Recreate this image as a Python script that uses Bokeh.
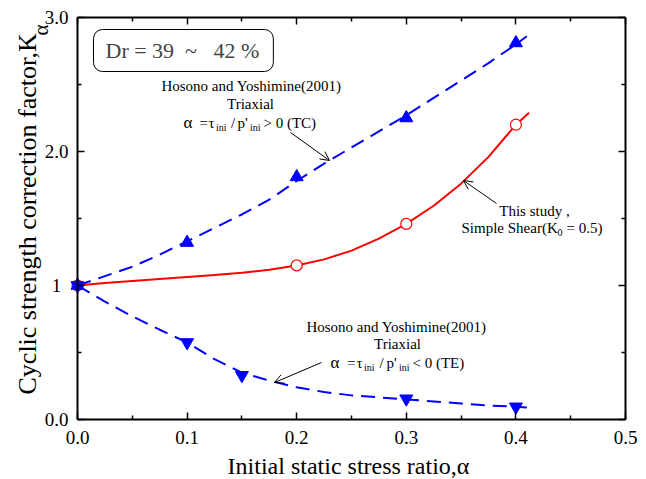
from math import pi
from bokeh.plotting import figure
from bokeh.models import (Label, LabelSet, ColumnDataSource, LinearAxis, FixedTicker,
                          Arrow, OpenHead, Range1d)
from bokeh.embed import file_html
from bokeh.resources import INLINE

# ---------------- data ----------------
# Hosono and Yoshimine (2001) triaxial compression (TC)
tc_x = [0.0, 0.1, 0.2, 0.3, 0.4]
tc_y = [1.0, 1.32, 1.81, 2.25, 2.81]
tc_curve_x = [0.0, 0.025, 0.05, 0.075, 0.1, 0.125, 0.15, 0.175, 0.2, 0.225, 0.25,
              0.275, 0.3, 0.325, 0.35, 0.375, 0.4, 0.41]
tc_curve_y = [1.0, 1.07, 1.14, 1.23, 1.33, 1.43, 1.53, 1.64, 1.78, 1.91, 2.03,
              2.15, 2.27, 2.40, 2.53, 2.66, 2.80, 2.86]

# Hosono and Yoshimine (2001) triaxial extension (TE)
te_x = [0.0, 0.1, 0.15, 0.3, 0.4]
te_y = [1.0, 0.575, 0.33, 0.155, 0.095]
te_curve_x = [0.0, 0.025, 0.05, 0.075, 0.1, 0.125, 0.15, 0.175, 0.2, 0.225, 0.25,
              0.275, 0.3, 0.325, 0.35, 0.375, 0.4, 0.41]
te_curve_y = [1.0, 0.88, 0.77, 0.67, 0.575, 0.45, 0.35, 0.29, 0.24, 0.205, 0.18,
              0.165, 0.15, 0.135, 0.12, 0.105, 0.095, 0.09]

# This study, simple shear (K0 = 0.5)
ss_x = [0.0, 0.2, 0.3, 0.4]
ss_y = [1.0, 1.15, 1.46, 2.20]
ss_curve_x = [0.0, 0.025, 0.05, 0.075, 0.1, 0.125, 0.15, 0.175, 0.2, 0.225, 0.25,
              0.275, 0.3, 0.325, 0.35, 0.375, 0.4, 0.412]
ss_curve_y = [1.0, 1.018, 1.033, 1.048, 1.063, 1.078, 1.095, 1.118, 1.15, 1.195, 1.26,
              1.35, 1.46, 1.595, 1.76, 1.96, 2.20, 2.29]

xtick_vals = [0.0, 0.1, 0.2, 0.3, 0.4, 0.5]
xtick_labels = ["0.0", "0.1", "0.2", "0.3", "0.4", "0.5"]
xminor_vals = [0.05, 0.15, 0.25, 0.35, 0.45]
ytick_vals = [0.0, 1.0, 2.0, 3.0]
ytick_labels = ["0.0", "1", "2.0", "3.0"]
yminor_vals = [0.5, 1.5, 2.5]

FONT = "Liberation Serif"
BLUE = "#0000FF"
RED = "#FF0000"

W, H = 646, 479
FL, FR, FT, FB = 77, 625, 17, 419   # plotting box in canvas pixels


def dx(px):
    return (px - FL) / (FR - FL) * 0.5


def dy(py):
    return (FB - py) / (FB - FT) * 3.0


# ---------------- figure ----------------
p = figure(width=W, height=H, output_backend="svg", toolbar_location=None,
           x_range=Range1d(dx(0), dx(W)), y_range=Range1d(dy(H), dy(0)),
           min_border=0, x_axis_location=None, y_axis_location=None)
p.grid.visible = False
p.outline_line_color = None
p.background_fill_color = "white"
p.border_fill_color = "white"


def make_axis(ticks, minor, labels, loc, bounds):
    ax = LinearAxis(ticker=FixedTicker(ticks=ticks, minor_ticks=minor),
                    fixed_location=loc, bounds=bounds)
    ax.axis_line_width = 2
    ax.axis_line_color = "black"
    ax.major_tick_in = 7
    ax.major_tick_out = 0
    ax.minor_tick_in = 4
    ax.minor_tick_out = 0
    ax.major_tick_line_width = 1.5
    ax.minor_tick_line_width = 1.5
    ax.major_tick_line_color = "black"
    ax.minor_tick_line_color = "black"
    ax.major_label_overrides = {v: l for v, l in zip(ticks, labels)}
    ax.major_label_text_font = FONT
    ax.major_label_text_font_size = "19px"
    ax.major_label_text_color = "black"
    ax.major_label_standoff = 11
    return ax


blank_x = [""] * len(xtick_vals)
blank_y = [""] * len(ytick_vals)
p.add_layout(make_axis(xtick_vals, xminor_vals, xtick_labels, 0.0, (0.0, 0.5)), "below")
p.add_layout(make_axis(xtick_vals, xminor_vals, blank_x, 3.0, (0.0, 0.5)), "above")
p.add_layout(make_axis(ytick_vals, yminor_vals, blank_y, 0.0, (0.0, 3.0)), "left")
p.add_layout(make_axis(ytick_vals, yminor_vals, blank_y, 0.5, (0.0, 3.0)), "right")

# y tick labels (centred, as in the reference)
ysrc = ColumnDataSource(dict(y=ytick_vals, t=ytick_labels))
p.add_layout(LabelSet(x=dx(56), y="y", text="t", source=ysrc, text_font=FONT,
                      text_font_size="19px", text_align="center", text_baseline="middle",
                      text_color="black"))

# ---------------- curves ----------------
p.line(tc_curve_x, tc_curve_y, line_color=BLUE, line_width=2, line_dash="14 8")
p.line(te_curve_x, te_curve_y, line_color=BLUE, line_width=2, line_dash="14 8")
p.line(ss_curve_x, ss_curve_y, line_color=RED, line_width=2)

p.scatter(ss_x, ss_y, marker="circle", size=11, line_color=RED, line_width=1.2,
          fill_color="white")
p.scatter(tc_x, tc_y, marker="triangle", size=13, line_color=BLUE, fill_color=BLUE)
p.scatter(te_x, te_y, marker="inverted_triangle", size=13, line_color=BLUE, fill_color=BLUE)


# ---------------- text helpers (py = vertical centre of the capitals) ----------------
def seg(px, py, text, size, align="left", angle=0.0):
    p.add_layout(Label(x=dx(px), y=dy(py), text=text, text_font=FONT,
                       text_font_size=f"{size}px", text_align=align,
                       text_baseline="middle", angle=angle, text_color="black"))


def arrow(x0, y0, x1, y1):
    p.add_layout(Arrow(end=OpenHead(size=9, line_width=1, line_color="black"),
                       x_start=dx(x0), y_start=dy(y0), x_end=dx(x1), y_end=dy(y1),
                       line_width=1, line_color="black"))


# Dr box
p.add_layout(Label(x=dx(93), y=dy(50), text="Dr = 39\u00a0 ~\u00a0\u00a0 42 %", text_font=FONT,
                   text_font_size="22px", text_align="left", text_baseline="middle",
                   border_line_color="black", border_line_width=1,
                   background_fill_color="white", border_radius=9,
                   padding=dict(left=12, right=14, top=8, bottom=9)))

# TC annotation
seg(251, 85, "Hosono and Yoshimine(2001)", 15, align="center")
seg(250, 103, "Triaxial", 15, align="center")
seg(183, 122, "\u03b1", 17)
seg(199, 122, "=", 15)
seg(208, 122, "\u03c4", 15)
seg(215.5, 126.5, "ini", 10)
seg(230.5, 122, "/", 15)
seg(237, 122, "p'", 15)
seg(249.5, 126.5, "ini", 10)
seg(263, 122, "> 0 (TC)", 15)
arrow(290, 132, 329, 160)

# This study annotation
seg(534, 210, "This study ,", 15, align="center")
seg(461, 227, "Simple Shear(K", 15)
seg(557, 231.5, "0", 10)
seg(566, 227, "= 0.5)", 15)
arrow(496, 203, 463, 180)

# TE annotation
seg(396, 326, "Hosono and Yoshimine(2001)", 15, align="center")
seg(397, 343, "Triaxial", 15, align="center")
seg(330, 362, "\u03b1", 17)
seg(346.5, 362, "=", 15)
seg(356, 362, "\u03c4", 15)
seg(363.5, 366.5, "ini", 10)
seg(379, 362, "/", 15)
seg(386, 362, "p'", 15)
seg(398.5, 366.5, "ini", 10)
seg(412, 362, "< 0 (TE)", 15)
arrow(321, 362, 274, 382)

# axis titles
seg(348, 465, "Initial static stress ratio,\u03b1", 24, align="center")
seg(27, 394, "Cyclic strength correction factor,K", 26, angle=pi / 2)
seg(40, 35, "\u03b1", 21, angle=pi / 2)

open("out.html", "w").write(file_html(p, INLINE))
